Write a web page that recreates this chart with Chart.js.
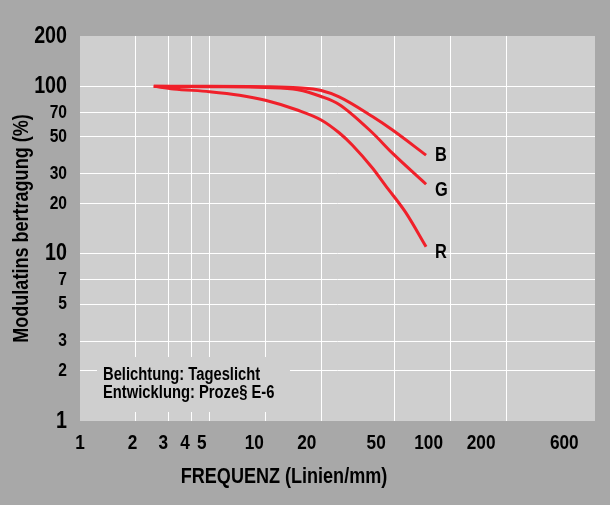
<!DOCTYPE html>
<html><head><meta charset="utf-8">
<script src="https://cdn.jsdelivr.net/npm/chart.js@4/dist/chart.umd.min.js"></script>
<style>html,body{margin:0;padding:0;background:#a8a8a8;overflow:hidden}</style>
</head><body>
<div style="width:610px;height:505px;position:relative"><canvas id="c"></canvas></div>
<script>
// ---- data ----
const seriesNames = ['B', 'G', 'R'];
const freqB = [2.5, 5, 10, 15, 20, 25, 37.8, 48.3, 73.6];
const modB  = [100, 100, 99.5, 98, 94.5, 86.5, 66, 55, 38.8];
const freqG = [2.5, 5, 10, 15, 20, 25, 37.8, 48.3, 73.6];
const modG  = [100, 99.5, 98.5, 95.5, 87, 78, 52.8, 40, 26];
const freqR = [2.5, 3.2, 5, 7.25, 10, 15, 20, 25, 29.5, 37.8, 44.5, 57, 73.6];
const modR  = [100, 96.5, 93, 88.6, 82.6, 72, 63, 52.8, 44.5, 32.5, 25.5, 17.7, 11];
const xGridValues = [1, 2, 3, 4, 5, 10, 20, 50, 100, 200, 600];
const xTickLabels = [1, 2, 3, 4, 5, 10, 20, 50, 100, 200, 600];
const yTickValues = [1, 2, 3, 5, 7, 10, 20, 30, 50, 70, 100, 200];
const yBigTicks = [1, 10, 100, 200];
const xTitle = 'FREQUENZ (Linien/mm)';
const yTitle = 'Modulatins bertragung (%)';
const notes = ['Belichtung: Tageslicht', 'Entwicklung: Proze\u00a7 E-6'];

// ---- style ----
const FONT = "'Liberation Sans', Arial, sans-serif";
const NARROW = 0.82; // emulate a narrow (condensed) sans face
const OUTER = '#a8a8a8', PLOT = '#cfcfcf', RED = '#f0202a';

const toPts = (xs, ys) => xs.map((x, i) => ({x: x, y: ys[i]}));
const seriesData = [toPts(freqB, modB), toPts(freqG, modG), toPts(freqR, modR)];

const narrowText = {
  id: 'narrowText',
  beforeInit(chart) {
    const ctx = chart.ctx;
    const orig = ctx.fillText;
    ctx.fillText = function (t, x, y) {
      this.save();
      this.translate(x, y);
      this.scale(NARROW, 1);
      orig.call(this, t, 0, 0);
      this.restore();
    };
  }
};

const bgPlugin = {
  id: 'bg',
  beforeDraw(chart) {
    const {ctx, chartArea: a} = chart;
    ctx.save();
    ctx.fillStyle = OUTER; ctx.fillRect(0, 0, chart.width, chart.height);
    ctx.fillStyle = PLOT; ctx.fillRect(a.left, a.top, a.right - a.left, a.bottom - a.top);
    ctx.restore();
  },
  beforeDatasetsDraw(chart) {
    const {ctx, chartArea: a} = chart;
    ctx.save();
    ctx.fillStyle = PLOT;
    ctx.fillRect(a.left + 17, a.bottom - 64, 193, 55);
    ctx.fillStyle = '#000';
    ctx.font = 'bold 18px ' + FONT;
    ctx.textAlign = 'left'; ctx.textBaseline = 'middle';
    ctx.fillText(notes[0], a.left + 23, a.bottom - 46);
    ctx.fillText(notes[1], a.left + 23, a.bottom - 28);
    ctx.restore();
  },
  afterDraw(chart) {
    const {ctx, chartArea: a} = chart;
    ctx.save();
    ctx.fillStyle = '#000';
    ctx.font = 'bold 22px ' + FONT;
    ctx.textAlign = 'center'; ctx.textBaseline = 'middle';
    ctx.fillText(xTitle, a.left + 204, a.bottom + 56);
    const dys = [0, 6, 6];
    ctx.font = 'bold 20px ' + FONT;
    ctx.textAlign = 'left';
    chart.data.datasets.forEach((ds, i) => {
      const meta = chart.getDatasetMeta(i);
      const p = meta.data[meta.data.length - 1];
      ctx.fillText(seriesNames[i], p.x + 9, p.y + dys[i]);
    });
    ctx.restore();
  }
};

new Chart(document.getElementById('c'), {
  type: 'line',
  data: {
    datasets: seriesData.map((d, i) => ({
      label: seriesNames[i], data: d,
      borderColor: RED, borderWidth: 3, pointRadius: 0,
      cubicInterpolationMode: 'monotone', fill: false,
      xAxisID: 'x', yAxisID: 'y'
    }))
  },
  options: {
    responsive: true, maintainAspectRatio: false, animation: false,
    layout: {padding: {left: 0, top: 36, right: 15, bottom: 0}},
    plugins: {legend: {display: false}, tooltip: {enabled: false}},
    scales: {
      x: {
        type: 'logarithmic', min: 1, max: 600, position: 'bottom',
        border: {display: false},
        grid: {drawTicks: false, lineWidth: 1,
          color: c => (c.tick && (c.tick.value === 1 || c.tick.value === 600)) ? 'rgba(0,0,0,0)' : '#ffffff'},
        ticks: {display: false},
        afterBuildTicks: ax => { ax.ticks = xGridValues.map(v => ({value: v})); },
        afterFit: ax => { ax.height = 0; }
      },
      x2: {
        type: 'logarithmic', min: 1, max: 900, position: 'bottom',
        border: {display: false},
        grid: {display: false, drawTicks: false},
        ticks: {autoSkip: false, maxRotation: 0, minRotation: 0, padding: 10, color: '#000',
          font: {family: FONT, size: 21, weight: 'bold'},
          callback: v => String(v)},
        afterBuildTicks: ax => { ax.ticks = xTickLabels.map(v => ({value: v})); },
        afterFit: ax => { ax.height = 84; }
      },
      y: {
        type: 'logarithmic', min: 1, max: 200, position: 'left',
        border: {display: false},
        grid: {drawTicks: false, lineWidth: 1,
          color: c => (c.tick && (c.tick.value === 1 || c.tick.value === 200)) ? 'rgba(0,0,0,0)' : '#ffffff'},
        ticks: {autoSkip: false, padding: 13, color: '#000',
          font: c => ({family: FONT, weight: 'bold', size: (c.tick && yBigTicks.includes(c.tick.value)) ? 24 : 19}),
          callback: v => String(v)},
        title: {display: true, text: yTitle, color: '#000', padding: {top: 9, bottom: 0},
          font: {family: FONT, size: 22, weight: 'bold'}},
        afterBuildTicks: ax => { ax.ticks = yTickValues.map(v => ({value: v})); },
        afterFit: ax => { ax.width = 80; }
      }
    }
  },
  plugins: [narrowText, bgPlugin]
});
</script>
</body></html>
